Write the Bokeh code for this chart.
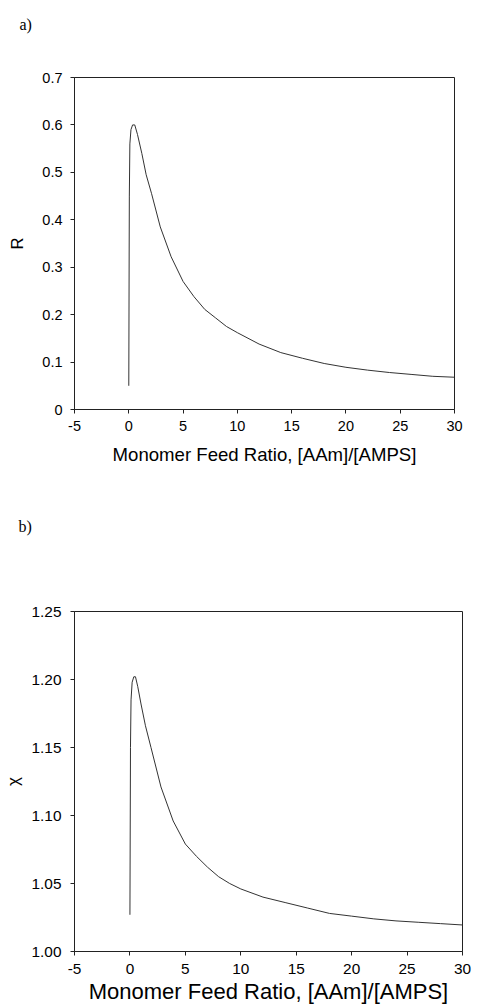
from bokeh.plotting import figure
from bokeh.layouts import column
from bokeh.models import Range1d, FixedTicker, Title
from bokeh.embed import file_html
from bokeh.resources import INLINE

# ---------------- data ----------------
# panel a) R vs monomer feed ratio
ratio_a = [0.0, 0.05, 0.1, 0.2, 0.35, 0.55, 0.8, 1.2, 1.6, 2.1, 2.9, 3.9, 5.0, 6.0,
           7.0, 8.0, 9.0, 10.0, 12.0, 14.0, 16.0, 18.0, 20.0, 22.0, 24.0, 26.0, 28.0, 30.0]
r_vals = [0.05, 0.45, 0.56, 0.59, 0.60, 0.60, 0.58, 0.54, 0.495, 0.455, 0.385, 0.322, 0.27, 0.238,
          0.211, 0.193, 0.175, 0.162, 0.138, 0.120, 0.108, 0.097, 0.089, 0.083, 0.078, 0.074, 0.070, 0.068]

# panel b) chi vs monomer feed ratio
ratio_b = [0.0, 0.05, 0.1, 0.2, 0.35, 0.5, 0.7, 1.0, 1.4, 1.9, 2.8, 3.9, 5.0, 6.0,
           7.0, 8.0, 9.0, 10.0, 12.0, 14.0, 16.0, 18.0, 20.0, 22.0, 24.0, 26.0, 28.0, 30.0]
chi_vals = [1.027, 1.15, 1.185, 1.198, 1.202, 1.202, 1.195, 1.182, 1.166, 1.150, 1.121, 1.096, 1.079, 1.070,
            1.062, 1.055, 1.050, 1.046, 1.040, 1.036, 1.032, 1.028, 1.026, 1.024, 1.0225, 1.0215, 1.0205, 1.0195]

x_ticks = [-5, 0, 5, 10, 15, 20, 25, 30]
x_tick_labels = ["-5", "0", "5", "10", "15", "20", "25", "30"]
ya_ticks = [0, 0.1, 0.2, 0.3, 0.4, 0.5, 0.6, 0.7]
ya_tick_labels = ["0", "0.1", "0.2", "0.3", "0.4", "0.5", "0.6", "0.7"]
yb_ticks = [1.0, 1.05, 1.1, 1.15, 1.2, 1.25]
yb_tick_labels = ["1.00", "1.05", "1.10", "1.15", "1.20", "1.25"]

x_label = "Monomer Feed Ratio, [AAm]/[AMPS]"
panel_tags = ["a)", "b)"]

SANS = "Liberation Sans"
SERIF = "Liberation Serif"
INK = "#222222"


def style(p, tick_px, xticks, xlabels, yticks, ylabels):
    p.xgrid.visible = False
    p.ygrid.visible = False
    p.outline_line_color = INK
    p.outline_line_width = 1
    for ax in (p.xaxis[0], p.yaxis[0]):
        ax.axis_line_color = INK
        ax.major_tick_line_color = INK
        ax.major_tick_out = 4
        ax.major_tick_in = 0
        ax.minor_tick_line_color = None
        ax.major_label_text_font = SANS
        ax.major_label_text_font_size = tick_px
        ax.major_label_text_color = "black"
        ax.axis_label_text_font = SANS
        ax.axis_label_text_font_style = "normal"
        ax.axis_label_text_color = "black"
    p.xaxis[0].ticker = FixedTicker(ticks=xticks)
    p.xaxis[0].major_label_overrides = {t: l for t, l in zip(xticks, xlabels)}
    p.yaxis[0].ticker = FixedTicker(ticks=yticks)
    p.yaxis[0].major_label_overrides = {t: l for t, l in zip(yticks, ylabels)}


def add_panel_tag(p, text, extra_lines, standoff, offset):
    # the tag sits on the first line of a taller title block, lifting it well above the frame
    p.add_layout(Title(text=text + "\n" * extra_lines, align="left", offset=offset, standoff=standoff,
                       text_font=SERIF, text_font_size="16px", text_font_style="normal",
                       text_color="black"), "above")


# ---------------- panel a ----------------
p1 = figure(width=468, height=506, output_backend="svg", toolbar_location=None,
            x_range=Range1d(-5, 30), y_range=Range1d(0, 0.7),
            min_border_left=66, min_border_right=14, min_border_top=77, min_border_bottom=97)
p1.line(ratio_a, r_vals, line_color="#333333", line_width=1)
style(p1, "14.5px", x_ticks, x_tick_labels, ya_ticks, ya_tick_labels)
p1.xaxis[0].axis_label = x_label
p1.xaxis[0].axis_label_text_font_size = "18.6px"
p1.xaxis[0].major_label_standoff = 7
p1.xaxis[0].axis_label_standoff = 10
p1.yaxis[0].axis_label = "R"
p1.yaxis[0].axis_label_text_font_size = "16.5px"
p1.yaxis[0].major_label_standoff = 8
p1.yaxis[0].axis_label_standoff = 13
add_panel_tag(p1, panel_tags[0], 2, 22, -55)

# ---------------- panel b ----------------
p2 = figure(width=476, height=502, output_backend="svg", toolbar_location=None,
            x_range=Range1d(-5, 30), y_range=Range1d(1.0, 1.25),
            min_border_left=70, min_border_right=11, min_border_top=105, min_border_bottom=57)
p2.line(ratio_b, chi_vals, line_color="#333333", line_width=1)
style(p2, "15.4px", x_ticks, x_tick_labels, yb_ticks, yb_tick_labels)
p2.xaxis[0].axis_label = x_label
p2.xaxis[0].axis_label_text_font_size = "22px"
p2.xaxis[0].major_label_standoff = 8
p2.xaxis[0].axis_label_standoff = 2
p2.yaxis[0].axis_label = "χ"
p2.yaxis[0].axis_label_text_font_size = "17px"
p2.yaxis[0].major_label_standoff = 9
p2.yaxis[0].axis_label_standoff = 6
add_panel_tag(p2, panel_tags[1], 4, 18, -56)

layout = column(p1, p2, spacing=0)
open("out.html", "w").write(file_html(layout, INLINE))
